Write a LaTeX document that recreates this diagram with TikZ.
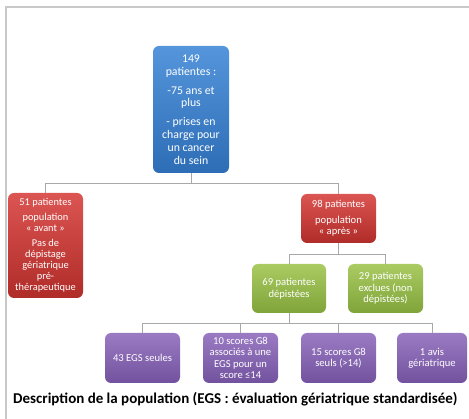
\documentclass[tikz,border=0pt]{standalone}
\usepackage{fontspec}
\setmainfont{Carlito}
\usetikzlibrary{positioning}
\definecolor{frameg}{HTML}{C8C8C8}
\definecolor{lineg}{HTML}{A8A8A8}
\definecolor{blueT}{HTML}{5595DB}
\definecolor{blueB}{HTML}{2D6DB6}
\definecolor{redT}{HTML}{DB5552}
\definecolor{redB}{HTML}{B02C29}
\definecolor{greenT}{HTML}{AACB62}
\definecolor{greenB}{HTML}{7FA43A}
\definecolor{purpT}{HTML}{9A7BC3}
\definecolor{purpB}{HTML}{72529E}
\tikzset{
  box/.style={rounded corners=6pt, inner sep=0pt, align=center, text=white,
    font=\fontsize{10.6}{11.4}\selectfont},
  bluebox/.style={box, top color=blueT, bottom color=blueB},
  redbox/.style={box, top color=redT, bottom color=redB},
  greenbox/.style={box, top color=greenT, bottom color=greenB},
  purpbox/.style={box, top color=purpT, bottom color=purpB},
  conn/.style={draw=lineg, line width=0.6pt},
}
\begin{document}
\begin{tikzpicture}[x=1pt,y=-1pt]
\useasboundingbox (0,0) rectangle (469,419);
% frame
\draw[frameg, line width=1.4pt] (6,419) -- (6,7) -- (469,7);
% nodes
\node[bluebox, minimum width=76pt, minimum height=127pt,
  font=\fontsize{11.8}{12.8}\selectfont] (top) at (191,109.5)
  {149\\patientes :\\[6pt]-75 ans et\\plus\\[6pt]- prises en\\charge pour\\un cancer\\du sein};
\node[redbox, minimum width=75pt, minimum height=105pt,
  font=\fontsize{10.4}{11}\selectfont] (left) at (45.5,245.5)
  {51 patientes\\[4pt]population\\« avant »\\[4pt]Pas de\\dépistage\\gériatrique\\pré-\\thérapeutique};
\node[redbox, minimum width=75pt, minimum height=49pt] (r98) at (338.5,218.5)
  {98 patientes\\[4pt]population\\« après »};
\node[greenbox, minimum width=74pt, minimum height=49pt] (g69) at (289,288.5)
  {69 patientes\\dépistées};
\node[greenbox, minimum width=75pt, minimum height=49pt] (g29) at (385.5,288.5)
  {29 patientes\\exclues (non\\dépistées)};
\node[purpbox, minimum width=75pt, minimum height=50pt] (p1) at (142.5,358)
  {43 EGS seules};
\node[purpbox, minimum width=75pt, minimum height=50pt] (p2) at (240.5,358)
  {10 scores G8\\associés à une\\EGS pour un\\score ≤14};
\node[purpbox, minimum width=75pt, minimum height=50pt] (p3) at (338.5,358)
  {15 scores G8\\seuls (>14)};
\node[purpbox, minimum width=70pt, minimum height=50pt] (p4) at (432,358)
  {1 avis\\gériatrique};
% junctions
\coordinate (j1) at (191,183);
\coordinate (j2) at (338.5,254);
\coordinate (j3) at (289,323);
% connectors
\draw[conn] (top.south) -- (j1);
\draw[conn] (j1) -| (left.north);
\draw[conn] (j1) -| (r98.north);
\draw[conn] (r98.south) -- (j2);
\draw[conn] (j2) -| (g69.north);
\draw[conn] (j2) -| (g29.north);
\draw[conn] (g69.south) -- (j3);
\draw[conn] (j3) -| (p1.north);
\draw[conn] (j3) -| (p2.north);
\draw[conn] (j3) -| (p3.north);
\draw[conn] (j3) -| (p4.north);
% caption
\node[anchor=west, inner sep=0pt, font=\fontsize{15}{17}\selectfont\bfseries] (cap) at (13,399)
  {Description de la population (EGS : évaluation gériatrique standardisée)};
\end{tikzpicture}
\end{document}
